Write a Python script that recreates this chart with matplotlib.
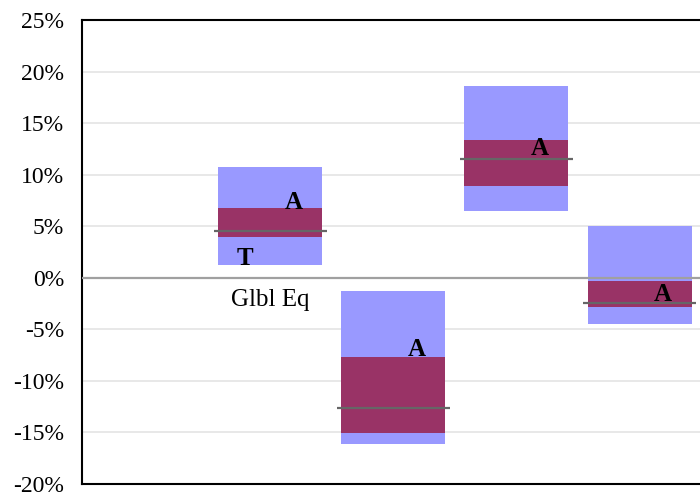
import numpy as np
import matplotlib.pyplot as plt

# Values (percent)
categories = ['Glbl Eq', '', '', '']
outer_low = [1.25, -16.1, 6.5, -4.5]
outer_high = [10.7, -1.25, 18.6, 5.0]
inner_low = [4.0, -15.1, 8.9, -2.8]
inner_high = [6.8, -7.7, 13.4, -0.3]
median = [4.55, -12.65, 11.5, -2.4]
a_mark = [7.3, -7.0, 12.5, -1.6]
t_mark = [1.9, None, None, None]

plt.rcParams['font.family'] = ['Liberation Serif', 'DejaVu Serif']

fig = plt.figure(figsize=(7, 4.93), dpi=100)
ax = fig.add_axes([82 / 700, 9 / 493, 640 / 700, 464 / 493])

x = np.arange(len(categories)) + 1.53
box_w = 0.845
line_w = 0.92

ax.bar(x, np.array(outer_high) - np.array(outer_low), bottom=outer_low,
       width=box_w, color='#9999FF', zorder=2)
ax.bar(x, np.array(inner_high) - np.array(inner_low), bottom=inner_low,
       width=box_w, color='#993366', zorder=3)
for xi, m in zip(x, median):
    ax.plot([xi - line_w / 2, xi + line_w / 2], [m, m], color='#666666',
            lw=1.6, zorder=4, solid_capstyle='butt')

for xi, a in zip(x, a_mark):
    ax.text(xi + 0.19, a, 'A', ha='center', va='center', fontsize=18,
            fontweight='bold', zorder=5)
for xi, t in zip(x, t_mark):
    if t is not None:
        ax.text(xi - 0.21, t, 'T', ha='center', va='center', fontsize=18,
                fontweight='bold', zorder=5)

ax.axhline(0, color='#a0a0a0', lw=1.6, zorder=4)

for xi, lab in zip(x, categories):
    if lab:
        ax.annotate(lab, (xi, 0), xytext=(0, -8), textcoords='offset points',
                    ha='center', va='top', fontsize=18)

ax.set_xlim(0, 5.2)
ax.set_ylim(-20, 25)
ax.set_yticks(np.arange(-20, 26, 5))
ax.set_yticklabels([f'{v}%' for v in range(-20, 26, 5)], fontsize=17)
ax.set_xticks([])
ax.tick_params(axis='y', length=0, pad=13)
ax.yaxis.grid(True, color='#e4e4e4', lw=1.2, zorder=0)
ax.set_axisbelow(True)

for s in ['left', 'top', 'bottom', 'right']:
    ax.spines[s].set_linewidth(1.5)
    ax.spines[s].set_color('black')

fig.savefig('out.png', dpi=100)
